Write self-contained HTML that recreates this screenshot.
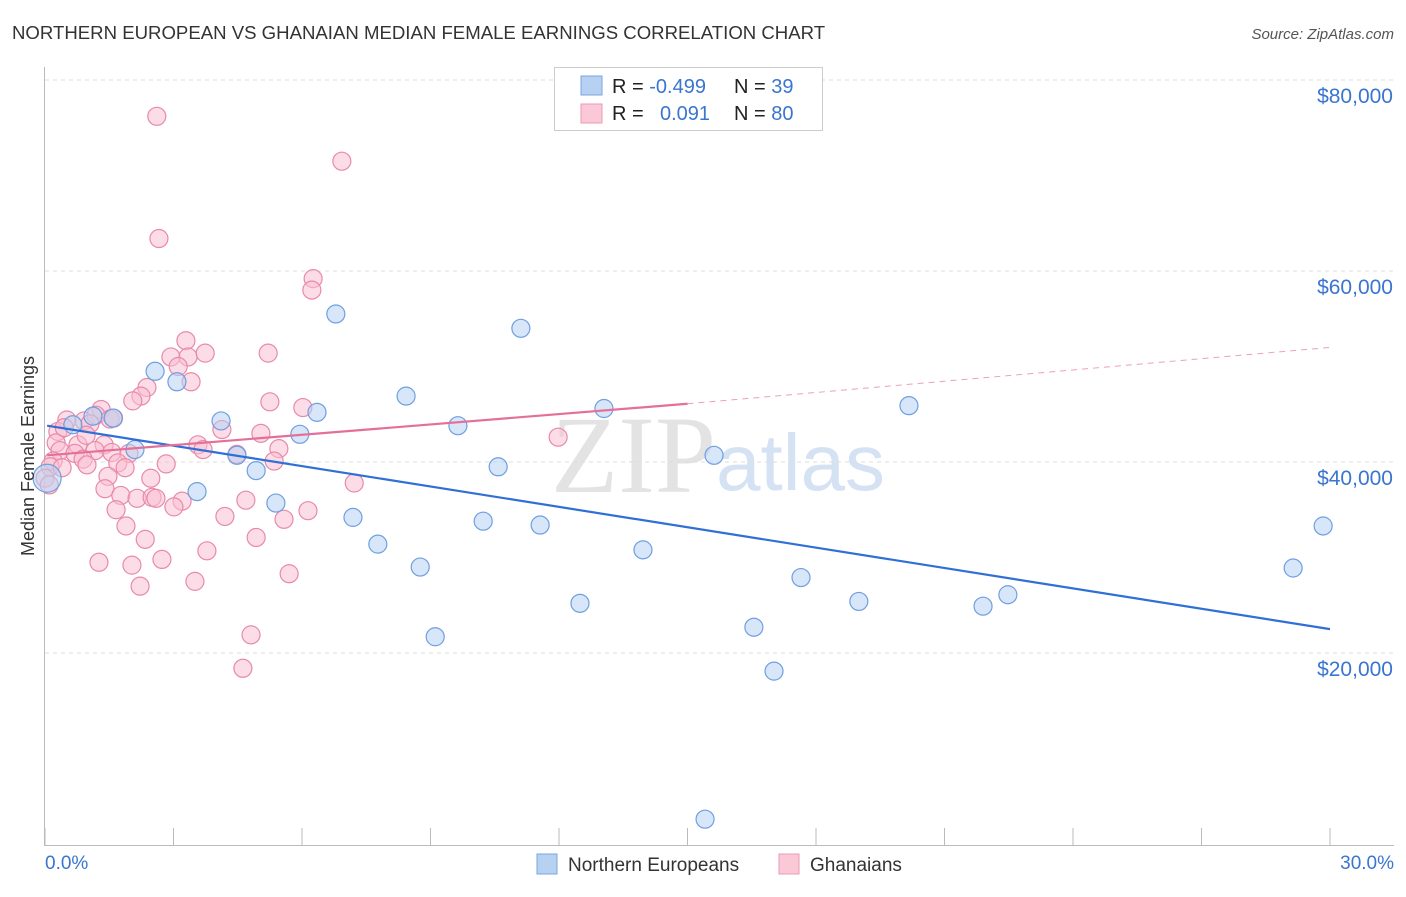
<!DOCTYPE html>
<html><head><meta charset="utf-8"><style>
body{margin:0;background:#fff;font-family:"Liberation Sans",sans-serif;}
</style></head><body>
<svg id="chart" width="1406" height="892" xmlns="http://www.w3.org/2000/svg">
<text x="12" y="39" font-size="18.6" fill="#333">NORTHERN EUROPEAN VS GHANAIAN MEDIAN FEMALE EARNINGS CORRELATION CHART</text>
<text x="1394" y="39" font-size="15" fill="#555" font-style="italic" text-anchor="end">Source: ZipAtlas.com</text>
<text x="716" y="492" font-size="110" fill="#e3e3e3" text-anchor="end" font-family="Liberation Serif,serif">ZIP</text>
<text x="716" y="490" font-size="80" fill="#d4e2f3">atlas</text>
<g id="grid"></g>
<g id="axes"></g>
<g id="marks"></g>
<text transform="translate(34,456) rotate(-90)" font-size="18" fill="#333" text-anchor="middle">Median Female Earnings</text>
<text x="45" y="869" font-size="19" fill="#3a75d0">0.0%</text>
<text x="1394" y="869" font-size="19" fill="#3a75d0" text-anchor="end">30.0%</text>
<g>
<rect x="554.5" y="67.5" width="268" height="63" fill="#fff" stroke="#ccc"/>
<rect x="581" y="76" width="21" height="19" fill="#b7d1f3" stroke="#7aa6e0"/>
<rect x="581" y="104" width="21" height="19" fill="#fac8d6" stroke="#eb9ab5"/>
<text x="612" y="93" font-size="20" fill="#222">R = <tspan fill="#3a75d0">-0.499</tspan><tspan x="734">N = </tspan><tspan fill="#3a75d0">39</tspan></text>
<text x="612" y="120" font-size="20" fill="#222">R = <tspan x="660" fill="#3a75d0">0.091</tspan><tspan x="734">N = </tspan><tspan fill="#3a75d0">80</tspan></text>
</g>
<g>
<rect x="537" y="854" width="20" height="20" fill="#b7d1f3" stroke="#7aa6e0"/>
<text x="568" y="871" font-size="19" fill="#333">Northern Europeans</text>
<rect x="779" y="854" width="20" height="20" fill="#fac8d6" stroke="#eb9ab5"/>
<text x="810" y="871" font-size="19" fill="#333">Ghanaians</text>
</g>
</svg>
<script>
const yTicks=[20000,40000,60000,80000];
const yTickLabels=["$20,000","$40,000","$60,000","$80,000"];
const xTicks=[0,3,6,9,12,15,18,21,24,27,30];
const blueX=[0.05,1.12,1.59,0.65,2.1,2.57,3.08,3.55,4.11,4.48,4.93,5.39,5.95,6.35,6.79,7.19,7.77,8.43,8.76,9.11,9.64,10.23,10.58,11.11,11.56,12.49,13.05,13.96,15.41,15.62,16.55,17.02,17.65,19.0,20.17,21.9,22.48,29.14,29.84];
const blueY=[38.3,44.8,44.6,43.9,41.3,49.5,48.4,36.9,44.3,40.7,39.1,35.7,42.9,45.2,55.5,34.2,31.4,46.9,29.0,21.7,43.8,33.8,39.5,54.0,33.4,25.2,45.6,30.8,2.6,40.7,22.7,18.1,27.9,25.4,45.9,24.9,26.1,28.9,33.3];
const pinkX=[2.61,6.93,2.66,6.26,6.23,3.29,2.94,3.34,3.74,5.21,3.11,3.41,2.38,2.24,2.05,5.25,6.02,1.31,0.51,0.91,1.19,1.52,1.05,0.30,4.13,5.04,3.57,3.69,0.26,0.77,1.38,0.35,0.70,1.17,1.56,1.96,4.48,5.46,0.89,0.19,0.98,1.70,2.83,5.35,0.12,0.40,1.87,1.47,2.47,7.22,1.40,1.77,2.15,2.50,2.59,3.20,3.01,4.69,1.66,6.14,4.20,5.58,1.89,11.98,2.34,4.93,3.78,2.73,1.26,2.03,5.70,3.50,2.22,4.81,4.62,0.0,0.1,0.96,1.6,0.45];
const pinkY=[76.2,71.5,63.4,59.2,58.0,52.7,51.0,51.0,51.4,51.4,50.0,48.4,47.8,46.9,46.4,46.3,45.7,45.5,44.4,44.3,44.9,44.5,44.0,43.2,43.4,43.0,41.8,41.3,42.0,41.8,41.8,41.2,40.9,41.2,41.0,40.9,40.8,41.4,40.3,40.1,39.7,39.9,39.8,40.1,39.5,39.4,39.4,38.5,38.3,37.8,37.2,36.5,36.2,36.3,36.2,35.9,35.3,36.0,35.0,34.9,34.3,34.0,33.3,42.6,31.9,32.1,30.7,29.8,29.5,29.2,28.3,27.5,27.0,21.9,18.4,38.3,37.6,42.8,44.6,43.6];
const blueTrend=[[0.05,43.8],[30,22.5]];
const pinkTrendSolid=[[0.05,40.7],[15,46.1]];
const pinkTrendDash=[[15,46.1],[30,52.0]];
const X=v=>45+v*(1285/30);
const Y=v=>844-v*(191/20);
const NS="http://www.w3.org/2000/svg";
function mk(tag,attrs,parent){const e=document.createElementNS(NS,tag);for(const k in attrs)e.setAttribute(k,attrs[k]);parent.appendChild(e);return e;}
const grid=document.getElementById('grid'),axes=document.getElementById('axes'),marks=document.getElementById('marks');
yTicks.forEach((t,i)=>{const y=Y(t/1000);
const l=mk('line',{x1:45,x2:1394,y1:y,y2:y,stroke:'#ddd','stroke-dasharray':'4,4'},grid);


const tx=mk('text',{x:1393,y:y+23,'font-size':21,fill:'#3a75d0','text-anchor':'end'},axes);tx.textContent=yTickLabels[i];

});
const ax=mk('line',{x1:44.5,x2:44.5,y1:67,y2:845,stroke:'#bbb'},axes);


const bx=mk('line',{x1:44,x2:1394,y1:845.5,y2:845.5,stroke:'#bbb'},axes);


xTicks.forEach(t=>{const x=X(t);const l=mk('line',{x1:x,x2:x,y1:828,y2:845,stroke:'#bbb'},axes);

});
function dot(x,y,fill,stroke,name,r){const c=mk('circle',{cx:X(x),cy:Y(y),r:r||9,fill:fill,'fill-opacity':0.55,stroke:stroke,'stroke-width':1.2},marks);

}
pinkX.forEach((x,i)=>dot(x,pinkY[i],'#f9c0d1','#e88aa8','ghanaian-point'));
blueX.forEach((x,i)=>dot(x,blueY[i],'#b7d1f3','#6f9fe0','northern-european-point',i===0?14:9));
function ln(p,stroke,name,dash){const l=mk('line',{x1:X(p[0][0]),y1:Y(p[0][1]),x2:X(p[1][0]),y2:Y(p[1][1]),stroke:stroke,'stroke-width':dash?1:2.2},marks);if(dash)l.setAttribute('stroke-dasharray','6,5');

}
ln(blueTrend,'#2f6fd6','northern-european-trendline');
ln(pinkTrendSolid,'#e4709a','ghanaian-trendline');
ln(pinkTrendDash,'#eba0ba','ghanaian-trendline-extension',true);
</script>
</body></html>
